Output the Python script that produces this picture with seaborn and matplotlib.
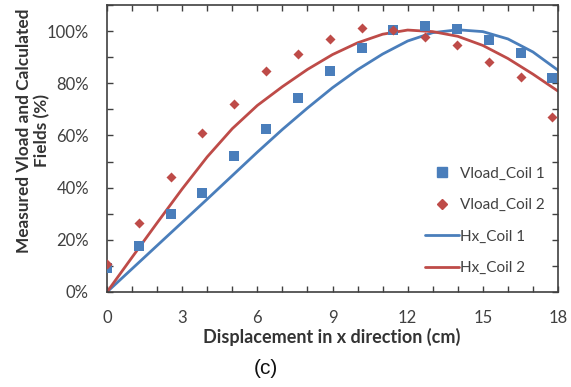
import numpy as np
import pandas as pd
import seaborn as sns
import matplotlib
matplotlib.use("Agg")
import matplotlib.pyplot as plt
from matplotlib.ticker import MultipleLocator, PercentFormatter
from matplotlib.lines import Line2D

# Measured load voltage (normalised, %) at 0.5-inch steps of displacement
meas_x = [0, 1.27, 2.54, 3.81, 5.08, 6.35, 7.62, 8.89, 10.16, 11.43, 12.7, 13.97, 15.24, 16.51, 17.78]
vload_coil1 = [9.2, 17.7, 30.0, 38.0, 52.0, 62.5, 74.2, 84.6, 93.6, 100.4, 102.0, 100.8, 96.5, 91.5, 81.9]
vload_coil2 = [10.8, 26.5, 44.0, 61.0, 71.9, 84.6, 91.2, 96.9, 101.0, 100.4, 97.7, 94.6, 88.0, 82.3, 67.0]

# Calculated field Hx (normalised, %) along the displacement
calc_x = list(range(0, 19))
hx_coil1 = [0, 8.9, 17.8, 26.7, 35.6, 44.6, 53.6, 62.3, 70.5, 78.3, 85.2, 91.2, 96.2, 99.4, 100.5, 99.8, 97.0, 92.0, 85.0]
hx_coil2 = [0, 13.3, 26.5, 39.5, 51.8, 62.6, 71.5, 78.7, 85.3, 91.0, 95.5, 98.8, 100.4, 99.8, 98.0, 94.5, 89.5, 83.5, 77.0]

labels = ["Vload_Coil 1", "Vload_Coil 2", "Hx_Coil 1", "Hx_Coil 2"]
blue = "#4A7EBB"
red = "#BE4B48"

meas = pd.DataFrame({"x": meas_x, "c1": vload_coil1, "c2": vload_coil2})
calc = pd.DataFrame({"x": calc_x, "c1": hx_coil1, "c2": hx_coil2})

sns.set_style("white")
plt.rcParams["font.family"] = ["Lato", "DejaVu Sans"]

W, H = 571, 387
fig = plt.figure(figsize=(W / 100, H / 100), dpi=100)
ax = fig.add_axes([107 / W, 1 - 292 / H, (558 - 107) / W, (292 - 5) / H])

sns.lineplot(data=calc, x="x", y="c1", ax=ax, color=blue, lw=2.0, zorder=2)
sns.lineplot(data=calc, x="x", y="c2", ax=ax, color=red, lw=2.0, zorder=2)
sns.scatterplot(data=meas, x="x", y="c1", ax=ax, marker="s", s=50, color=blue,
                edgecolor=blue, linewidth=0, zorder=3)
sns.scatterplot(data=meas, x="x", y="c2", ax=ax, marker="D", s=26, color=red,
                edgecolor=red, linewidth=0, zorder=3)

ax.set_xlim(0, 18)
ax.set_ylim(0, 110)
ax.xaxis.set_major_locator(MultipleLocator(3))
ax.xaxis.set_minor_locator(MultipleLocator(1))
ax.yaxis.set_major_locator(MultipleLocator(20))
ax.yaxis.set_minor_locator(MultipleLocator(10))
ax.yaxis.set_major_formatter(PercentFormatter(100, decimals=0))

spine_col = "#404040"
for sp in ax.spines.values():
    sp.set_visible(True)
    sp.set_color(spine_col)
    sp.set_linewidth(1.2)
ax.tick_params(which="both", direction="in", top=True, right=True, left=True, bottom=True,
               length=4, width=1.0, color=spine_col)
ax.tick_params(axis="x", which="major", labelsize=12, labelcolor="#404040", pad=13)
ax.tick_params(axis="y", which="major", labelsize=12, labelcolor="#404040", pad=13)

ax.set_xlabel("Displacement in x direction (cm)", fontsize=13, fontweight="bold",
              color="#333333")
ax.xaxis.set_label_coords((332 - 107) / 451, -(337 - 292) / 287)
ax.xaxis.label.set_va("center")

ax.set_ylabel("Measured Vload and Calculated\nFields (%)", fontsize=12.4, fontweight="bold",
              color="#333333", linespacing=1.1)
ax.yaxis.set_label_coords((50 - 107) / 451, (292 - 131) / 287)

handles = [
    Line2D([], [], ls="none", marker="s", ms=7, color=blue),
    Line2D([], [], ls="none", marker="D", ms=5, color=red),
    Line2D([], [], color=blue, lw=2.0),
    Line2D([], [], color=red, lw=2.0),
]
leg = ax.legend(handles, labels, loc="center left", bbox_to_anchor=(425 / W, 1 - 221 / H),
                bbox_transform=fig.transFigure, frameon=False, fontsize=11,
                handlelength=2.2, handletextpad=0.1, labelspacing=1.15, borderpad=0,
                borderaxespad=0)
for t in leg.get_texts():
    t.set_color("#404040")

fig.text(266 / W, 1 - 368 / H, "(c)", ha="center", va="center", fontsize=15,
         family=["Liberation Sans", "DejaVu Sans"], color="#111111")

fig.savefig("out.png", dpi=100)
